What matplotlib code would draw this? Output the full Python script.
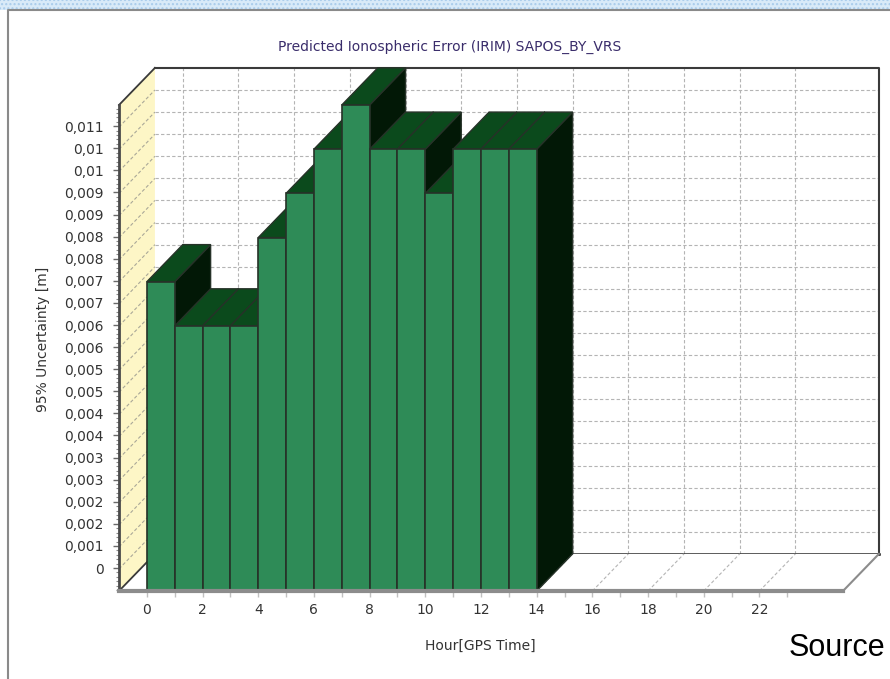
import numpy as np
import matplotlib
matplotlib.use('Agg')
import matplotlib.pyplot as plt
from matplotlib.patches import Polygon, Rectangle
from matplotlib.lines import Line2D
from matplotlib.ticker import FixedLocator

# data
hours = list(range(14))
uncertainty = [0.007, 0.006, 0.006, 0.006, 0.008, 0.009, 0.010, 0.011,
               0.010, 0.010, 0.009, 0.010, 0.010, 0.010]
y_tick_labels = ['0', '0,001', '0,002', '0,002', '0,003', '0,003', '0,004',
                 '0,004', '0,005', '0,005', '0,006', '0,006', '0,007', '0,007',
                 '0,008', '0,008', '0,009', '0,009', '0,01', '0,01', '0,011']
x_tick_values = list(range(0, 23, 2))
x_minor_values = list(range(1, 24, 2))

title = 'Predicted Ionospheric Error (IRIM) SAPOS_BY_VRS'

# pseudo 3d look
x0, x1 = -1, 25
ymax = 0.011
grid_step = 0.0005
dx = 1.29          # depth offset in hours
dy = 0.00084       # depth offset in value units
label_offset = 0.00052

front_col = '#2e8b57'
top_col = '#0b4a1c'
side_col = '#021806'
edge_col = '#263228'
grid_col = '#b4b4b4'
wall_col = '#fdf6c6'

W, H = 890, 679
fig = plt.figure(figsize=(W / 100, H / 100), dpi=100)
fig.patch.set_facecolor('white')

# slide background strip + panel border
fig.patches.append(Rectangle((0, 1 - 10 / H), 1, 10 / H, transform=fig.transFigure,
                             facecolor='#d9eaf8', edgecolor='#a8cbeb', lw=0,
                             hatch='....', zorder=0))
fig.lines.append(Line2D([8 / W, 8 / W, 1], [0, 1 - 10 / H, 1 - 10 / H],
                        transform=fig.transFigure, color='#8a8a8a', lw=1.5))

ax = fig.add_axes([119 / W, 88 / H, 724 / W, 486 / H])
ax.set_xlim(x0, x1)
ax.set_ylim(0, ymax)
ax.patch.set_visible(False)

# back wall
ax.add_patch(Polygon([(x0 + dx, dy), (x1 + dx, dy), (x1 + dx, ymax + dy), (x0 + dx, ymax + dy)],
                     facecolor='white', edgecolor='none', zorder=0.5, clip_on=False))
for k in range(1, 22):
    y = k * grid_step
    ax.plot([x0 + dx, x1 + dx], [y + dy, y + dy], ls=(0, (3, 2)), color=grid_col,
            lw=0.8, clip_on=False, zorder=1)
for h in x_tick_values:
    ax.plot([h + dx, h + dx], [dy, ymax + dy], ls=(0, (3, 2)), color=grid_col,
            lw=0.8, clip_on=False, zorder=1)
ax.plot([x0 + dx, x1 + dx, x1 + dx], [ymax + dy, ymax + dy, dy], color='#3a3a3a',
        lw=1.5, clip_on=False, zorder=1.2)
ax.plot([x0 + dx, x1 + dx], [dy, dy], color='#111111', lw=1.8, clip_on=False, zorder=1.2)

# left wall
ax.add_patch(Polygon([(x0, 0), (x0 + dx, dy), (x0 + dx, ymax + dy), (x0, ymax)],
                     facecolor=wall_col, edgecolor='none', zorder=1.5, clip_on=False))
for k in range(1, 22):
    y = k * grid_step
    ax.plot([x0, x0 + dx], [y, y + dy], ls=(0, (3, 2)), color='#aaa898',
            lw=0.8, clip_on=False, zorder=1.6)
ax.plot([x0, x0 + dx], [ymax, ymax + dy], color='#3a3a3a', lw=1.3, clip_on=False, zorder=1.7)
ax.plot([x0, x0 + dx], [0, dy], color='#3a3a3a', lw=1.3, clip_on=False, zorder=2.5)

# floor
ax.add_patch(Polygon([(x0 + 0.03, 0), (x1, 0), (x1 + dx, dy), (x0 + dx, dy)],
                     facecolor='white', edgecolor='none', zorder=2, clip_on=False))
for h in x_tick_values:
    ax.plot([h, h + dx], [0, dy], ls=(0, (3, 2)), color=grid_col,
            lw=0.8, clip_on=False, zorder=2.1)
ax.plot([x1, x1 + dx], [0, dy], color='#8c8c8c', lw=1.5, clip_on=False, zorder=2.2)

# bars, left to right so the right neighbour covers the side face
for i, (h, v) in enumerate(zip(hours, uncertainty)):
    z = 3 + i * 0.1
    ax.add_patch(Polygon([(h + 1, 0), (h + 1 + dx, dy), (h + 1 + dx, v + dy), (h + 1, v)],
                         facecolor=side_col, edgecolor=edge_col, lw=1, zorder=z, clip_on=False))
    ax.add_patch(Polygon([(h, v), (h + 1, v), (h + 1 + dx, v + dy), (h + dx, v + dy)],
                         facecolor=top_col, edgecolor=edge_col, lw=1, zorder=z + 0.01, clip_on=False))
    ax.add_patch(Rectangle((h, 0), 1, v, facecolor=front_col, edgecolor=edge_col,
                           lw=1.2, zorder=z + 0.02, clip_on=False))

# axes
for s in ['top', 'right']:
    ax.spines[s].set_visible(False)
ax.spines['left'].set_color('#4a4a4a')
ax.spines['left'].set_linewidth(2)
ax.spines['bottom'].set_color('#8c8c8c')
ax.spines['bottom'].set_linewidth(3)
ax.spines['left'].set_zorder(50)
ax.spines['bottom'].set_zorder(50)

ax.set_yticks([label_offset + grid_step * i for i in range(len(y_tick_labels))])
ax.set_yticklabels(y_tick_labels)
ax.yaxis.set_minor_locator(FixedLocator(
    [label_offset + 0.0001 * k for k in range(-5, 106) if 0 <= label_offset + 0.0001 * k <= ymax]))
ax.tick_params(axis='y', which='major', length=4, width=1, color='#6a6a6a',
               labelsize=10, labelcolor='#333333', pad=7)
ax.tick_params(axis='y', which='minor', length=2.5, width=0.8, color='#8a8a8a')

ax.set_xticks(x_tick_values)
ax.xaxis.set_minor_locator(FixedLocator(x_minor_values))
ax.tick_params(axis='x', which='both', length=4, width=1, color='#c0c0c0',
               labelsize=10, labelcolor='#333333', pad=5)

fig.text(450 / W, 1 - 47 / H, title, ha='center', va='center', fontsize=10, color='#3a2d6b')
fig.text(43 / W, 1 - 339 / H, '95% Uncertainty [m]', rotation=90, ha='center', va='center',
         fontsize=10, color='#333333')
fig.text(480 / W, 1 - 646 / H, 'Hour[GPS Time]', ha='center', va='center',
         fontsize=10, color='#333333')
fig.text(789 / W, 1 - 648 / H, 'Source', ha='left', va='center', fontsize=22,
         family='Liberation Sans', color='black')

fig.savefig('out.png', dpi=100)
